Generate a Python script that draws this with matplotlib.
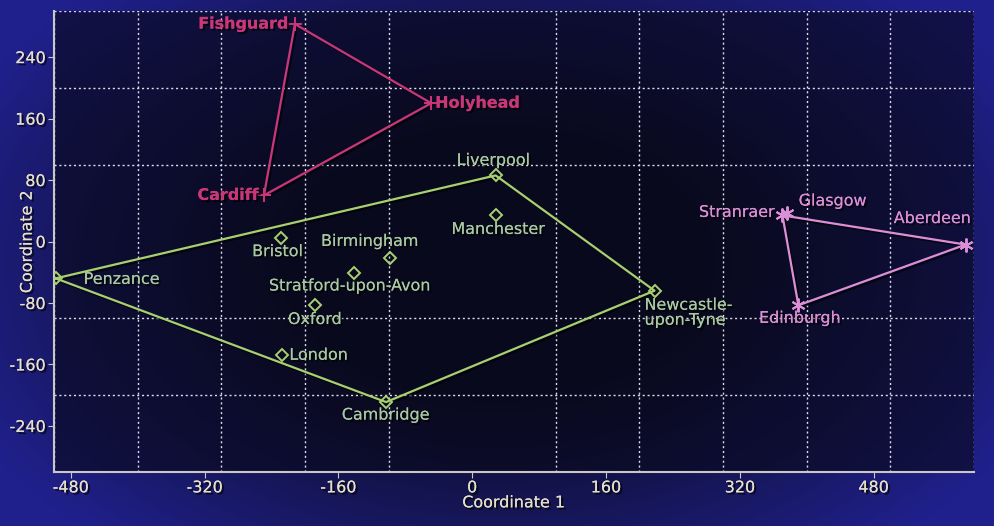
import matplotlib.pyplot as plt
import matplotlib.patheffects as pe
import numpy as np

plt.rcParams['axes.unicode_minus'] = False

# city coordinates
wales_names = ['Fishguard', 'Holyhead', 'Cardiff']
wales_x = [-212, -49, -249]
wales_y = [283, 180, 60]
wales_hull = ['Fishguard', 'Holyhead', 'Cardiff', 'Fishguard']

england_names = ['Liverpool', 'Manchester', 'Bristol', 'Birmingham', 'Stratford-upon-Avon',
                 'Oxford', 'London', 'Cambridge', 'Penzance', 'Newcastle-\nupon-Tyne']
england_x = [28, 29, -229, -98, -141, -188, -227, -103, -498, 218]
england_y = [86, 34, 5, -22, -41, -82, -148, -209, -48, -64]
england_hull = ['Penzance', 'Liverpool', 'Newcastle-\nupon-Tyne', 'Cambridge', 'Penzance']

scotland_names = ['Stranraer', 'Glasgow', 'Aberdeen', 'Edinburgh']
scotland_x = [371, 376, 590, 390]
scotland_y = [34, 37, -4, -83]
scotland_hull = ['Stranraer', 'Aberdeen', 'Edinburgh', 'Stranraer']

x_ticks = [-480, -320, -160, 0, 160, 320, 480]
y_ticks = [-240, -160, -80, 0, 80, 160, 240]

# label placement: (dx, dy in pixels, ha)
lab_pos = {
    'Fishguard': (-6, 0, 'right'), 'Holyhead': (4, 0, 'left'), 'Cardiff': (-5, 0, 'right'),
    'Liverpool': (-2, 15, 'center'), 'Manchester': (2, -14, 'center'), 'Bristol': (-3, -14, 'center'),
    'Birmingham': (-20, 17, 'center'), 'Stratford-upon-Avon': (-4, -13, 'center'),
    'Oxford': (0, -15, 'center'), 'London': (7, 0, 'left'), 'Cambridge': (0, -13, 'center'),
    'Penzance': (28, -1, 'left'), 'Newcastle-\nupon-Tyne': (-10, -22, 'left'),
    'Stranraer': (-7, 3, 'right'), 'Glasgow': (12, 12, 'left'), 'Aberdeen': (6, 26, 'right'),
    'Edinburgh': (2, -13, 'center'),
}

wales_col = '#c9377a'
eng_col = '#a8d070'
eng_txt = '#a9c9a0'
scot_col = '#dc8fd6'
tick_col = '#e6e0c8'
fs = 11.5

fig = plt.figure(figsize=(9.94, 5.26), dpi=100)

# background glow
bg = fig.add_axes([0, 0, 1, 1], zorder=-10)
gx, gy = np.meshgrid(np.linspace(0, 1, 400), np.linspace(0, 1, 220))
r = np.sqrt(((gx - 0.5) / 0.62) ** 2 + ((gy - 0.5) / 0.75) ** 2)
t = np.clip((r - 0.35) / 0.6, 0, 1)
c0 = np.array([12, 12, 38]) / 255
c1 = np.array([32, 32, 140]) / 255
img = c0 + (c1 - c0) * t[..., None]
bg.imshow(img, extent=[0, 1, 0, 1], aspect='auto', origin='lower')
bg.axis('off')

ax = fig.add_axes([54 / 994, 1 - 472 / 526, 920 / 994, 461 / 526])
ax.set_facecolor((0.03, 0.03, 0.10, 0.6))

shadow = [pe.withSimplePatchShadow(offset=(1.5, -1.5), shadow_rgbFace='black', alpha=0.7), pe.Normal()]
line_shadow = [pe.SimpleLineShadow(offset=(1.5, -1.5), shadow_color='black', alpha=0.6), pe.Normal()]


def group(names, xs, ys, hull, col, txt_col, marker, ms, bold=False):
    pts = dict(zip(names, zip(xs, ys)))
    hx = [pts[n][0] for n in hull]
    hy = [pts[n][1] for n in hull]
    ax.plot(hx, hy, color=col, lw=1.6, zorder=3, path_effects=line_shadow)
    ax.plot(xs, ys, ls='none', marker=marker, ms=ms, mfc='none', mec=col, mew=1.4, zorder=4)
    for n in names:
        dx, dy, ha = lab_pos[n]
        ax.annotate(n, pts[n], xytext=(dx, dy), textcoords='offset pixels', ha=ha, va='center',
                    color=txt_col, fontsize=fs, fontweight='bold' if bold else 'normal',
                    linespacing=1.0, zorder=5, path_effects=shadow)


group(wales_names, wales_x, wales_y, wales_hull, wales_col, wales_col, '+', 10, bold=True)
group(england_names, england_x, england_y, england_hull, eng_col, eng_txt, 'D', 6.5)
group(scotland_names, scotland_x, scotland_y, scotland_hull, scot_col, scot_col, (6, 2, 0), 10)

ax.set_xlim(-500, 600)
ax.set_ylim(-300, 300)
ax.set_xticks(x_ticks)
ax.set_yticks(y_ticks)
ax.set_xticks(np.arange(-500, 601, 100), minor=True)
ax.set_yticks(np.arange(-300, 301, 100), minor=True)
ax.grid(which='minor', color='#dcdcec', ls=(0, (1.5, 2)), lw=1.0)
ax.grid(which='major', visible=False)
ax.tick_params(which='minor', length=0)
ax.tick_params(which='major', colors='#c8c8c8', labelcolor=tick_col, labelsize=fs, length=4, pad=2)
for s in ['top', 'right']:
    ax.spines[s].set_visible(False)
for s in ['left', 'bottom']:
    ax.spines[s].set_color('#c8c8c8')
    ax.spines[s].set_linewidth(1.5)
for lab in ax.get_xticklabels() + ax.get_yticklabels():
    lab.set_path_effects(shadow)

ax.set_xlabel('Coordinate 1', color=tick_col, fontsize=fs, labelpad=0, path_effects=shadow)
ax.set_ylabel('Coordinate 2', color=tick_col, fontsize=fs, path_effects=shadow)
ax.yaxis.set_label_coords(-0.021, 0.5)

fig.savefig('out.png', dpi=100)
